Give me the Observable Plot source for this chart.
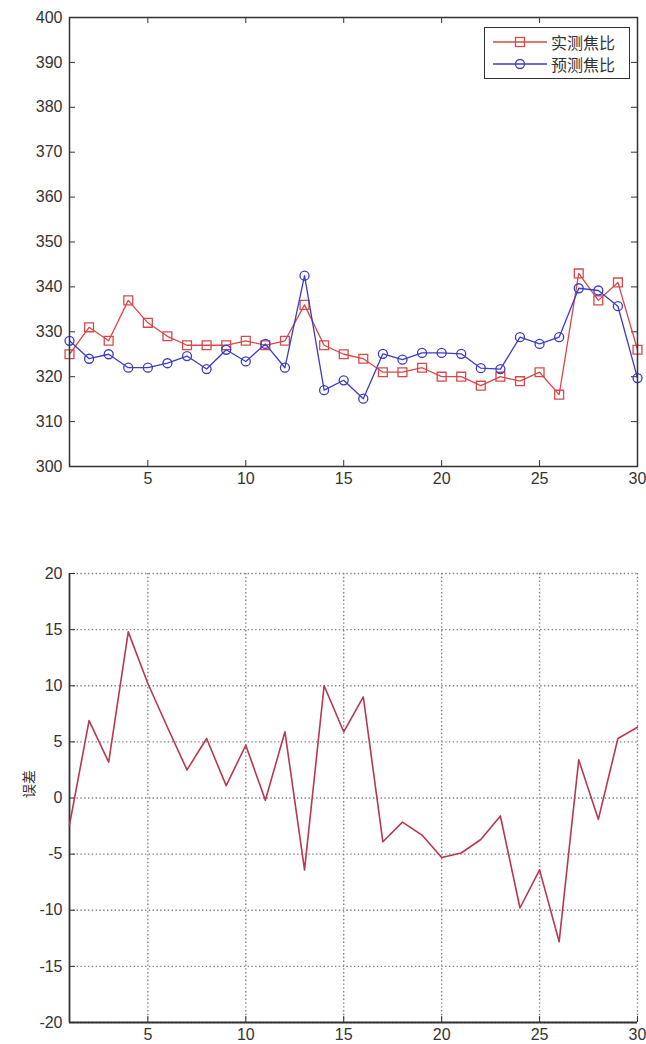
<!DOCTYPE html>
<html><head><meta charset="utf-8">
<script src="https://cdn.jsdelivr.net/npm/d3@7"></script>
<script src="https://cdn.jsdelivr.net/npm/@observablehq/plot@0.6"></script>
<style>
body{margin:0;background:#fff;width:646px;height:1044px;overflow:hidden;font-family:"Liberation Sans",Arial,sans-serif}
#wrap{position:relative;width:646px}
#wrap svg{display:block}
#legend{position:absolute;left:484px;top:27px;width:144px;height:50px;border:1.5px solid #333;background:#fff;box-sizing:content-box}
.row{position:absolute;left:0;height:22px;width:144px}
.row svg{position:absolute;left:6px;top:1px}
.row span{position:absolute;left:66px;top:0;line-height:22px;font-size:16px;color:#333;font-family:"Noto Sans CJK SC",sans-serif;white-space:nowrap}
</style></head>
<body><div id="wrap"></div>
<script>
const idx = [1,2,3,4,5,6,7,8,9,10,11,12,13,14,15,16,17,18,19,20,21,22,23,24,25,26,27,28,29,30];
const actual = [325,331,328,337,332,329,327,327,327,328,327,328,336,327,325,324,321,321,322,320,320,318,320,319,321,316,343,337,341,326];
const predicted = [328,324,325,322,322,323,324.6,321.7,326,323.4,327.3,322,342.5,317,319.2,315.1,325.1,323.8,325.3,325.3,325.1,321.9,321.7,328.8,327.3,328.8,339.7,339.2,335.7,319.7];
const errorVals = [-2.4,6.9,3.2,14.8,10.2,6.3,2.5,5.3,1.1,4.7,-0.2,5.9,-6.4,10.0,5.9,9.0,-3.9,-2.15,-3.3,-5.3,-4.9,-3.7,-1.6,-9.8,-6.4,-12.8,3.4,-1.9,5.3,6.3];
const xTicks = [5,10,15,20,25,30];
const yTicksTop = [300,310,320,330,340,350,360,370,380,390,400];
const yTicksBottom = [-20,-15,-10,-5,0,5,10,15,20];
const seriesNames = ["实测焦比","预测焦比"];
const yLabel = "误差";

const RED = "#d94848", BLUE = "#3c3cc4", ERR = "#b8384f", INK = "#333";
const rows = idx.map((x,i)=>({x, actual: actual[i], predicted: predicted[i], error: errorVals[i]}));
const fmt = d => String(d);

const W = 646, mL = 69, mR = 9;
const pw = W - mL - mR;

// Top chart
const h1 = 520, mT1 = 17, mB1 = 54, ph1 = h1 - mT1 - mB1;
const chartTop = Plot.plot({
  width: W, height: h1, marginLeft: mL, marginRight: mR, marginTop: mT1, marginBottom: mB1,
  x: {domain: [1,30]}, y: {domain: [300,400]},
  style: {fontFamily: '"Liberation Sans",Arial,sans-serif', fontSize: "16px", color: INK, background: "#fff"},
  marks: [
    Plot.tickY(yTicksTop, {y: d=>d, insetRight: pw-6, stroke: INK}),
    Plot.tickY(yTicksTop, {y: d=>d, insetLeft: pw-6, stroke: INK}),
    Plot.tickX(xTicks, {x: d=>d, insetTop: ph1-6, stroke: INK}),
    Plot.tickX(xTicks, {x: d=>d, insetBottom: ph1-6, stroke: INK}),
    Plot.line(rows, {x: "x", y: "actual", stroke: RED, strokeWidth: 1.3}),
    Plot.dot(rows, {x: "x", y: "actual", symbol: "square", r: 5, stroke: RED, fill: "none", strokeWidth: 1.3}),
    Plot.line(rows, {x: "x", y: "predicted", stroke: BLUE, strokeWidth: 1.3}),
    Plot.dot(rows, {x: "x", y: "predicted", symbol: "circle", r: 4.5, stroke: BLUE, fill: "none", strokeWidth: 1.3}),
    Plot.frame({stroke: INK, strokeWidth: 1.5}),
    Plot.axisX(xTicks, {tickSize: 0, tickPadding: 6, label: null, fill: INK, tickFormat: fmt}),
    Plot.axisY(yTicksTop, {tickSize: 0, tickPadding: 7, label: null, fill: INK, tickFormat: fmt})
  ]
});

// Bottom chart
const h2 = 524, mT2 = 53, mB2 = 22, ph2 = h2 - mT2 - mB2;
const chartBottom = Plot.plot({
  width: W, height: h2, marginLeft: mL, marginRight: mR, marginTop: mT2, marginBottom: mB2,
  x: {domain: [1,30]}, y: {domain: [-20,20]},
  style: {fontFamily: '"Liberation Sans",Arial,sans-serif', fontSize: "16px", color: INK, background: "#fff"},
  marks: [
    Plot.ruleY(yTicksBottom, {y: d=>d, stroke: "#808080", strokeWidth: 1.4, strokeDasharray: "1.4,2.4"}),
    Plot.ruleX(xTicks, {x: d=>d, stroke: "#808080", strokeWidth: 1.4, strokeDasharray: "1.4,2.4"}),
    Plot.tickY(yTicksBottom, {y: d=>d, insetRight: pw-6, stroke: INK}),
    Plot.tickX(xTicks, {x: d=>d, insetTop: ph2-6, stroke: INK}),
    Plot.ruleY([-20], {stroke: INK, strokeWidth: 1.8}),
    Plot.ruleX([1], {stroke: INK, strokeWidth: 1.8}),
    Plot.line(rows, {x: "x", y: "error", stroke: ERR, strokeWidth: 1.6}),
    Plot.axisX(xTicks, {tickSize: 0, tickPadding: 6, label: null, fill: INK, tickFormat: fmt}),
    Plot.axisY(yTicksBottom, {tickSize: 0, tickPadding: 7, label: null, fill: INK, tickFormat: fmt}),
    Plot.text([yLabel], {text: d=>d, frameAnchor: "left", dx: -40, rotate: -90, fontSize: 14, fill: INK, fontFamily: '"Noto Sans CJK SC",sans-serif'})
  ]
});

const wrap = document.getElementById("wrap");
wrap.appendChild(chartTop);
wrap.appendChild(chartBottom);

// Legend overlay
const legend = document.createElement("div");
legend.id = "legend";
const specs = [{name: seriesNames[0], color: RED, sym: "square"}, {name: seriesNames[1], color: BLUE, sym: "circle"}];
specs.forEach((s, i) => {
  const row = document.createElement("div");
  row.className = "row";
  row.style.top = (3 + i*22) + "px";
  const ns = "http://www.w3.org/2000/svg";
  const svg = document.createElementNS(ns, "svg");
  svg.setAttribute("width", 58); svg.setAttribute("height", 20);
  const ln = document.createElementNS(ns, "line");
  ln.setAttribute("x1", 2); ln.setAttribute("x2", 56); ln.setAttribute("y1", 10); ln.setAttribute("y2", 10);
  ln.setAttribute("stroke", s.color); ln.setAttribute("stroke-width", 1.3);
  svg.appendChild(ln);
  let mk;
  if (s.sym === "square") {
    mk = document.createElementNS(ns, "rect");
    mk.setAttribute("x", 24.5); mk.setAttribute("y", 5.5); mk.setAttribute("width", 9); mk.setAttribute("height", 9);
  } else {
    mk = document.createElementNS(ns, "circle");
    mk.setAttribute("cx", 29); mk.setAttribute("cy", 10); mk.setAttribute("r", 4.5);
  }
  mk.setAttribute("fill", "none"); mk.setAttribute("stroke", s.color); mk.setAttribute("stroke-width", 1.3);
  svg.appendChild(mk);
  row.appendChild(svg);
  const sp = document.createElement("span");
  sp.textContent = s.name;
  row.appendChild(sp);
  legend.appendChild(row);
});
wrap.appendChild(legend);
</script>
</body></html>
